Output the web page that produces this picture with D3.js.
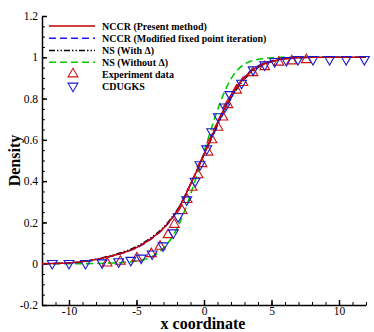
<!DOCTYPE html>
<html>
<head>
<meta charset="utf-8">
<script src="https://cdn.jsdelivr.net/npm/d3@7"></script>
<style>
  body { margin: 0; background: #fff; }
  svg { display: block; }
  .tick text { font-family: "Liberation Serif", "Times New Roman", serif; font-size: 11.5px; }
</style>
</head>
<body>
<div id="chart-container"></div>
<script>
// curve grid (x coordinate) and density series
var xGrid = [-12, -10, -8, -7, -6, -5, -4, -3, -2.5, -2, -1.5, -1, -0.5, 0, 0.5, 1, 1.5, 2, 2.5, 3, 3.5, 4, 5, 6, 7, 8, 10, 12];
var nccrPresent = [0, 0.003, 0.02, 0.035, 0.053, 0.078, 0.118, 0.172, 0.21, 0.255, 0.315, 0.385, 0.455, 0.53, 0.605, 0.68, 0.75, 0.812, 0.862, 0.902, 0.933, 0.955, 0.98, 0.993, 0.998, 1, 1, 1];
var nccrModified = [0, 0.003, 0.019, 0.034, 0.052, 0.077, 0.116, 0.17, 0.208, 0.253, 0.313, 0.384, 0.455, 0.531, 0.607, 0.683, 0.754, 0.816, 0.866, 0.906, 0.936, 0.958, 0.982, 0.994, 0.998, 1, 1, 1];
var nsWith = [0, 0.004, 0.022, 0.038, 0.057, 0.083, 0.123, 0.177, 0.215, 0.26, 0.318, 0.386, 0.455, 0.527, 0.598, 0.67, 0.738, 0.8, 0.852, 0.893, 0.926, 0.95, 0.978, 0.992, 0.998, 1, 1, 1];
var nsWithout = [0, 0, 0.001, 0.003, 0.006, 0.013, 0.03, 0.075, 0.115, 0.17, 0.245, 0.335, 0.435, 0.54, 0.645, 0.745, 0.83, 0.895, 0.94, 0.967, 0.982, 0.99, 0.998, 1, 1, 1, 1, 1];

// experiment data (red up triangles)
var expX = [-7.18, -6.2, -4.97, -3.9, -3.25, -2.66, -2.2, -1.62, -1.25, -0.89, -0.44, -0.15, 0.3, 0.59, 1.03, 1.4, 1.77, 2.41, 2.88, 3.62, 4.5, 5.54, 6.5, 7.58];
var expD = [0.003, 0.011, 0.027, 0.048, 0.084, 0.14, 0.19, 0.257, 0.31, 0.37, 0.43, 0.484, 0.54, 0.6, 0.66, 0.71, 0.77, 0.84, 0.877, 0.925, 0.954, 0.976, 0.982, 0.988];

// CDUGKS (blue down triangles)
var cdugksX = [-11.24, -10.0, -8.78, -7.55, -6.32, -5.42, -4.65, -3.84, -3.03, -2.27, -1.92, -1.28, -0.66, -0.3, 0.2, 0.57, 1.06, 1.55, 1.92, 2.78, 3.64, 4.5, 5.24, 6.1, 6.96, 8.07, 9.3, 10.53, 11.88];
var cdugksD = [0.002, 0.002, 0.002, 0.005, 0.01, 0.017, 0.028, 0.048, 0.087, 0.15, 0.228, 0.31, 0.4, 0.48, 0.557, 0.64, 0.713, 0.76, 0.82, 0.875, 0.94, 0.964, 0.98, 0.985, 0.99, 0.99, 0.99, 0.99, 0.99];

var xTicks = [-10, -5, 0, 5, 10];
var yTicks = [-0.2, 0, 0.2, 0.4, 0.6, 0.8, 1, 1.2];

var legendLabels = ["NCCR (Present method)", "NCCR (Modified fixed point iteration)", "NS (With \u0394)", "NS (Without \u0394)", "Experiment data", "CDUGKS"];

var W = 374, H = 332;
var plotLeft = 42, plotRight = 366, plotTop = 16, plotBottom = 305;

var svg = d3.select("#chart-container").append("svg")
  .attr("width", W)
  .attr("height", H);

var x = d3.scaleLinear().domain([-12, 12]).range([plotLeft, plotRight]);
var y = d3.scaleLinear().domain([-0.2, 1.2]).range([plotBottom, plotTop]);

var serif = "'Liberation Serif', 'Times New Roman', serif";

// minor ticks first, then major axis on top
svg.append("g")
  .attr("transform", "translate(0," + plotBottom + ")")
  .call(d3.axisTop(x).tickValues(d3.range(-12, 13, 1)).tickSize(3).tickFormat(""))
  .call(g => g.select(".domain").remove())
  .call(g => g.selectAll("line").attr("stroke-width", 1));

svg.append("g")
  .attr("transform", "translate(" + plotLeft + ",0)")
  .call(d3.axisRight(y).tickValues(d3.range(-0.2, 1.2001, 0.05)).tickSize(3).tickFormat(""))
  .call(g => g.select(".domain").remove())
  .call(g => g.selectAll("line").attr("stroke-width", 1));

// major x axis, ticks pointing inward
var xAxis = svg.append("g")
  .attr("transform", "translate(0," + plotBottom + ")")
  .call(d3.axisBottom(x).tickValues(xTicks).tickSize(0).tickSizeOuter(0).tickPadding(2)
    .tickFormat(function(d) { return String(d); }));
xAxis.select(".domain").attr("stroke-width", 1.5);
xAxis.selectAll(".tick").append("line").attr("y2", -5).attr("stroke", "#000").attr("stroke-width", 1.5);
xAxis.selectAll(".tick text").attr("fill", "#000");

var yAxis = svg.append("g")
  .attr("transform", "translate(" + plotLeft + ",0)")
  .call(d3.axisLeft(y).tickValues(yTicks).tickSize(0).tickSizeOuter(0).tickPadding(4)
    .tickFormat(function(d) { return String(+d.toFixed(1)); }));
yAxis.select(".domain").attr("stroke-width", 1.5);
yAxis.selectAll(".tick").append("line").attr("x2", 5).attr("stroke", "#000").attr("stroke-width", 1.5);
yAxis.selectAll(".tick text").attr("fill", "#000");

// axis titles
svg.append("text")
  .attr("x", (plotLeft + plotRight) / 2 - 1)
  .attr("y", 328.5)
  .attr("text-anchor", "middle")
  .attr("font-family", serif)
  .attr("font-weight", "bold")
  .attr("font-size", "16px")
  .text("x coordinate");

svg.append("text")
  .attr("transform", "translate(20," + ((plotTop + plotBottom) / 2) + ") rotate(-90)")
  .attr("text-anchor", "middle")
  .attr("font-family", serif)
  .attr("font-weight", "bold")
  .attr("font-size", "16px")
  .text("Density");

// lines
var series = [
  { vals: nsWithout, color: "#00cc00", dash: "7,4", width: 1.6 },
  { vals: nsWith, color: "#000000", dash: "6,2,1.5,2,1.5,2", width: 1.3 },
  { vals: nccrModified, color: "#1a1aff", dash: "7,4", width: 1.6 },
  { vals: nccrPresent, color: "#c00000", dash: null, width: 1.5 }
];

var line = d3.line()
  .x(function(d) { return x(d[0]); })
  .y(function(d) { return y(d[1]); })
  .curve(d3.curveMonotoneX);

series.forEach(function(s) {
  svg.append("path")
    .datum(xGrid.map(function(v, i) { return [v, s.vals[i]]; }))
    .attr("fill", "none")
    .attr("stroke", s.color)
    .attr("stroke-width", s.width)
    .attr("stroke-dasharray", s.dash)
    .attr("d", line);
});

// triangle markers
var triUp = d3.symbol().type(d3.symbolTriangle).size(42);

svg.append("g").selectAll("path")
  .data(expX.map(function(v, i) { return [v, expD[i]]; }))
  .enter().append("path")
  .attr("d", triUp)
  .attr("transform", function(d) { return "translate(" + x(d[0]) + "," + y(d[1]) + ")"; })
  .attr("fill", "none")
  .attr("stroke", "#d01010")
  .attr("stroke-width", 1.1);

svg.append("g").selectAll("path")
  .data(cdugksX.map(function(v, i) { return [v, cdugksD[i]]; }))
  .enter().append("path")
  .attr("d", triUp)
  .attr("transform", function(d) { return "translate(" + x(d[0]) + "," + y(d[1]) + ") rotate(180)"; })
  .attr("fill", "none")
  .attr("stroke", "#1a1acc")
  .attr("stroke-width", 1.1);

// legend
var legendY = [26, 38.3, 50.5, 62.3, 74, 86];
var legend = svg.append("g");
legendLabels.forEach(function(lbl, i) {
  var ly = legendY[i];
  if (i < 4) {
    var s = series[3 - i];
    legend.append("line")
      .attr("x1", 49).attr("x2", 95)
      .attr("y1", ly).attr("y2", ly)
      .attr("stroke", s.color)
      .attr("stroke-width", s.width)
      .attr("stroke-dasharray", s.dash);
  } else {
    legend.append("path")
      .attr("d", triUp)
      .attr("transform", "translate(73," + ly + ")" + (i === 5 ? " rotate(180)" : ""))
      .attr("fill", "none")
      .attr("stroke", i === 4 ? "#d01010" : "#1a1acc")
      .attr("stroke-width", 1.1);
  }
  legend.append("text")
    .attr("x", 102)
    .attr("y", ly + 3.5)
    .attr("font-family", serif)
    .attr("font-weight", "bold")
    .attr("font-size", "10px")
    .text(lbl);
});
</script>
</body>
</html>
